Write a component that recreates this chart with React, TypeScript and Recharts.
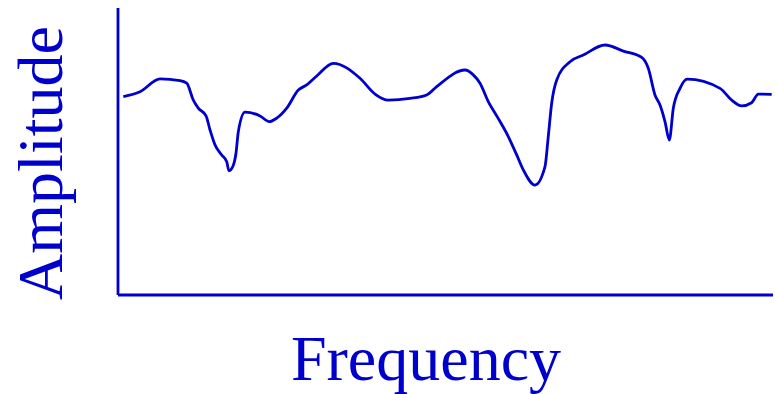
import React from 'react';
import { LineChart, Line, XAxis, YAxis, Label } from 'recharts';

const frequency = [
  0.81, 3.36, 6.41, 9.47, 10.49, 11.5, 12.26, 13.44, 14.05, 14.81, 15.83, 16.6, 16.95, 17.51, 18.02, 18.37,
  19.39, 21.68, 23.1, 24.23, 25.76, 27.53, 28.81, 30.34, 32.87, 36.95, 39.24, 41.27, 44.58, 47.13, 48.66,
  52.98, 54.24, 55.27, 56.53, 57.82, 59.59, 60.87, 61.88, 63.66, 65.19, 65.69, 66.21, 66.98, 69.01, 71.04,
  74.35, 77.15, 79.95, 80.96, 81.98, 82.75, 83.51, 84.17, 84.78, 85.8, 86.92, 91.91, 93.69, 95.22, 96.74,
  97.76, 99.8,
];

const amplitude = [
  69.1, 70.8, 75.3, 74.7, 73.8, 67.9, 65.1, 62.4, 57.5, 52.3, 48.8, 46.4, 43.3, 44.7, 49.5, 56.9,
  63.7, 62.4, 60.4, 61.6, 65.1, 71.4, 73.2, 76.3, 80.7, 75.5, 70.0, 67.9, 68.5, 69.7, 72.6,
  78.4, 76.7, 73.8, 67.4, 62.4, 55.2, 48.8, 43.6, 38.3, 44.7, 55.2, 66.8, 74.9, 81.3, 83.6,
  87.1, 85.0, 82.8, 79.0, 69.7, 66.2, 60.4, 54.0, 65.1, 72.0, 75.2, 72.0, 67.9, 65.9, 67.0,
  70.0, 69.9,
];

const xLabel = 'Frequency';
const yLabel = 'Amplitude';

const data = frequency.map((f, i) => ({ f, a: amplitude[i] }));

const BLUE = '#0000cc';
const FONT = '"Liberation Serif", "Times New Roman", serif';

export default function App() {
  return (
    <div style={{ position: 'absolute', left: 0, top: 0, background: '#fff' }}>
      <LineChart width={775} height={394} data={data} margin={{ top: 8, right: 2, bottom: 0, left: 0 }}>
        <XAxis
          dataKey="f"
          type="number"
          domain={[0, 100]}
          tick={false}
          tickLine={false}
          height={99}
          axisLine={{ stroke: BLUE, strokeWidth: 2.8 }}
        >
          <Label
            content={() => (
              <text x={426} y={380} textAnchor="middle" fill={BLUE} fontFamily={FONT} fontSize={64}>
                {xLabel}
              </text>
            )}
          />
        </XAxis>
        <YAxis
          type="number"
          domain={[0, 100]}
          tick={false}
          tickLine={false}
          width={118}
          axisLine={{ stroke: BLUE, strokeWidth: 2.8 }}
        >
          <Label
            content={() => (
              <text
                x={62}
                y={163}
                textAnchor="middle"
                fill={BLUE}
                fontFamily={FONT}
                fontSize={64}
                transform="rotate(-90 62 163)"
              >
                {yLabel}
              </text>
            )}
          />
        </YAxis>
        <Line
          type="monotone"
          dataKey="a"
          stroke={BLUE}
          strokeWidth={2.8}
          dot={false}
          isAnimationActive={false}
        />
      </LineChart>
    </div>
  );
}
